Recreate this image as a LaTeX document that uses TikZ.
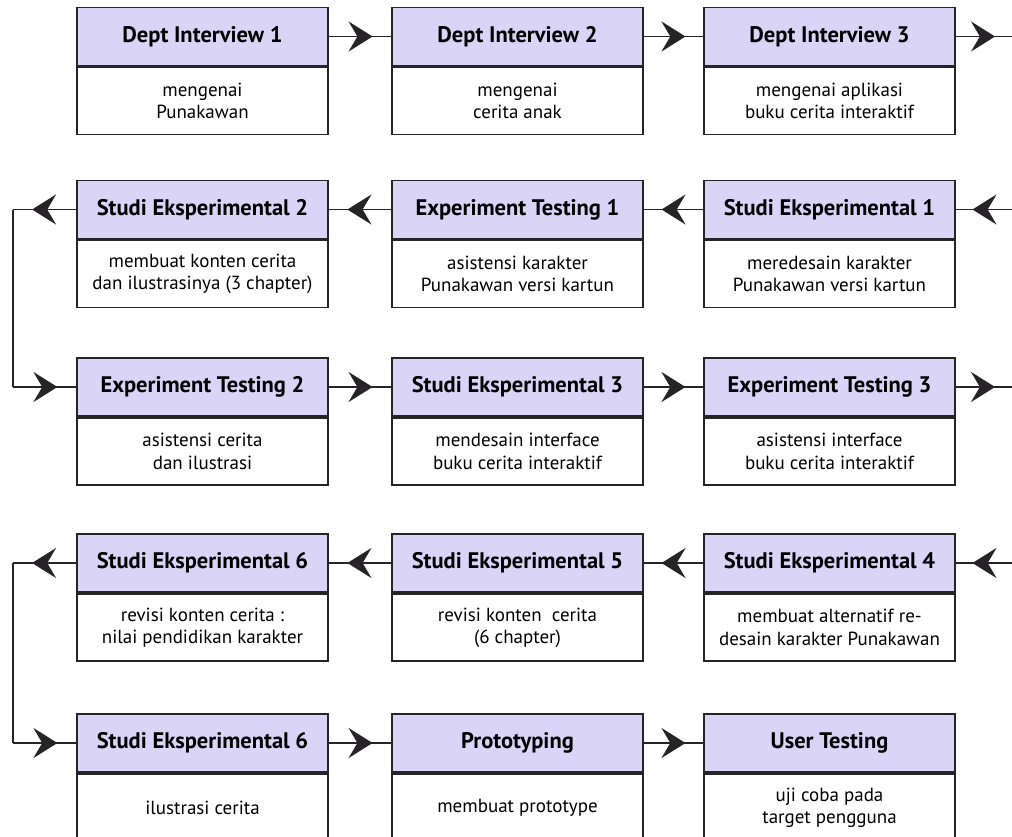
\documentclass[tikz,border=0pt]{standalone}
\usepackage{fontspec}
\setmainfont{PT Sans}
\usetikzlibrary{positioning,arrows.meta,decorations.markings}

\definecolor{ungu}{RGB}{218,212,247}
\definecolor{garis}{RGB}{38,36,38}

\tikzset{
  judul/.style={draw=garis, line width=1.4pt, fill=ungu,
    minimum width=6.25cm, minimum height=1.45cm, inner sep=0pt,
    font=\bfseries\fontsize{16}{18}\selectfont},
  isi/.style={draw=garis, line width=1.4pt, fill=white,
    minimum width=6.25cm, minimum height=1.675cm, inner sep=0pt,
    align=center, font=\fontsize{13.5}{15.8}\selectfont, below=0pt of #1},
  panah/.style={draw=garis, line width=1.4pt, postaction={decorate},
    decoration={markings, mark=at position 0.7 with
      {\arrow[garis]{Stealth[length=6mm,width=7.5mm,inset=2.2mm]}}}}
}

\begin{document}
\begin{tikzpicture}[x=0.025cm,y=-0.025cm]

\path[use as bounding box,clip] (0,0) rectangle (1012,836);

% baris 1
\node[judul] (k11) at (202.5,36.5) {Dept Interview 1};
\node[isi=k11] (k11i) {mengenai\\Punakawan};
\node[judul] (k12) at (517.5,36.5) {Dept Interview 2};
\node[isi=k12] (k12i) {mengenai\\cerita anak};
\node[judul] (k13) at (829.5,36.5) {Dept Interview 3};
\node[isi=k13] (k13i) {mengenai aplikasi\\buku cerita interaktif};

% baris 2
\node[judul] (k21) at (202.5,209.5) {Studi Eksperimental 2};
\node[isi=k21] (k21i) {membuat konten cerita\\dan ilustrasinya (3 chapter)};
\node[judul] (k22) at (517.5,209.5) {Experiment Testing 1};
\node[isi=k22] (k22i) {asistensi karakter\\Punakawan versi kartun};
\node[judul] (k23) at (829.5,209.5) {Studi Eksperimental 1};
\node[isi=k23] (k23i) {meredesain karakter\\Punakawan versi kartun};

% baris 3
\node[judul] (k31) at (202.5,387) {Experiment Testing 2};
\node[isi=k31] (k31i) {asistensi cerita\\dan ilustrasi};
\node[judul] (k32) at (517.5,387) {Studi Eksperimental 3};
\node[isi=k32] (k32i) {mendesain interface\\buku cerita interaktif};
\node[judul] (k33) at (829.5,387) {Experiment Testing 3};
\node[isi=k33] (k33i) {asistensi interface\\buku cerita interaktif};

% baris 4
\node[judul] (k41) at (202.5,563) {Studi Eksperimental 6};
\node[isi=k41] (k41i) {revisi konten cerita :\\nilai pendidikan karakter};
\node[judul] (k42) at (517.5,563) {Studi Eksperimental 5};
\node[isi=k42] (k42i) {revisi konten\ \ cerita\\(6 chapter)};
\node[judul] (k43) at (829.5,563) {Studi Eksperimental 4};
\node[isi=k43] (k43i) {membuat alternatif re-\\desain karakter Punakawan};

% baris 5
\node[judul] (k51) at (202.5,743) {Studi Eksperimental 6};
\node[isi=k51] (k51i) {ilustrasi cerita};
\node[judul] (k52) at (517.5,743) {Prototyping};
\node[isi=k52] (k52i) {membuat prototype};
\node[judul] (k53) at (829.5,743) {User Testing};
\node[isi=k53] (k53i) {uji coba pada\\target pengguna};

% titik tepi
\coordinate (ka1) at (1012,36.5);
\coordinate (ka2) at (1012,209.5);
\coordinate (ka3) at (1012,387);
\coordinate (ka4) at (1012,563);
\coordinate (ki2) at (13,209.5);
\coordinate (ki3) at (13,387);
\coordinate (ki4) at (13,563);
\coordinate (ki5) at (13,743);

% panah
\draw[panah] (k11) -- (k12);
\draw[panah] (k12) -- (k13);
\draw[panah] (k13) -- (ka1);

\draw[panah] (ka2) -- (k23);
\draw[panah] (k23) -- (k22);
\draw[panah] (k22) -- (k21);
\draw[panah] (k21) -- (ki2);
\draw[draw=garis,line width=1.4pt] (ki2) -- (ki3);
\draw[panah] (ki3) -- (k31);

\draw[panah] (k31) -- (k32);
\draw[panah] (k32) -- (k33);
\draw[panah] (k33) -- (ka3);

\draw[panah] (ka4) -- (k43);
\draw[panah] (k43) -- (k42);
\draw[panah] (k42) -- (k41);
\draw[panah] (k41) -- (ki4);
\draw[draw=garis,line width=1.4pt] (ki4) -- (ki5);
\draw[panah] (ki5) -- (k51);

\draw[panah] (k51) -- (k52);
\draw[panah] (k52) -- (k53);

\end{tikzpicture}
\end{document}
